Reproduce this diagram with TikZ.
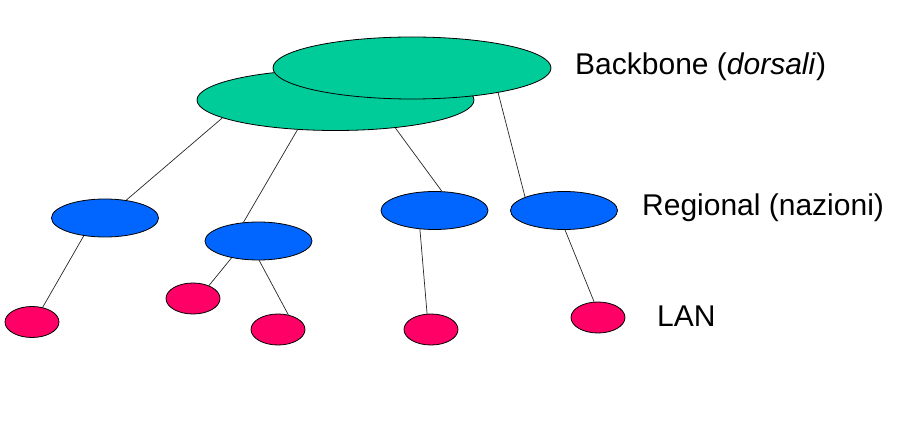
\documentclass[tikz,border=0pt]{standalone}
\usepackage{fontspec}
\setmainfont{Liberation Sans}
\usetikzlibrary{shapes.geometric,backgrounds}
\definecolor{bbgreen}{RGB}{0,204,153}
\definecolor{rgblue}{RGB}{0,102,255}
\definecolor{lanred}{RGB}{255,0,102}
\begin{document}
\begin{tikzpicture}[x=1pt,y=-1pt,
  outl/.style={ellipse, draw=black, line width=0.8pt, inner sep=0pt},
  bbnode/.style={outl, fill=bbgreen, minimum width=277pt, minimum height=61pt},
  rgnode/.style={outl, fill=rgblue, minimum width=107pt, minimum height=38pt},
  lannode/.style={outl, fill=lanred, minimum width=54pt, minimum height=31pt},
  link/.style={draw=black!85, line width=0.7pt},
  lbl/.style={inner sep=0pt, anchor=base west, font=\fontsize{30}{36}\selectfont}]
\useasboundingbox (0,0) rectangle (898,433);
\node[bbnode] (bbL) at (335.5,100) {};
\node[bbnode, minimum height=62pt, minimum width=278pt] (bbR) at (412,68) {};
\node[rgnode] (r1) at (105,218) {};
\node[rgnode] (r2) at (258.5,241) {};
\node[rgnode] (r3) at (434.5,210.5) {};
\node[rgnode] (r4) at (564,210.5) {};
\node[lannode] (l1) at (32,322) {};
\node[lannode] (l2) at (193,298.5) {};
\node[lannode] (l3) at (278,329.5) {};
\node[lannode] (l4) at (431,329.5) {};
\node[lannode] (l5) at (598,317.5) {};
\begin{pgfonlayer}{background}
\draw[link] (bbL.-171) -- (r1.40);
\draw[link] (bbL.-142) -- (r2.129);
\draw[link] (bbL.-25) -- (r3.69);
\draw[link] (bbR.-16) -- (r4.161);
\draw[link] (r1.-140) -- (l1.54);
\draw[link] (r2.-148) -- (l2.39);
\draw[link] (r2.-88) -- (l3.55);
\draw[link] (r3.-128) -- (l4.104);
\draw[link] (r4.-87) -- (l5.104);
\end{pgfonlayer}
\node[lbl] (tbb) at (575,75) {Backbone (\textit{dorsali})};
\node[lbl] (trg) at (642,215) {Regional (nazioni)};
\node[lbl] (tlan) at (657,326) {LAN};
\end{tikzpicture}
\end{document}
